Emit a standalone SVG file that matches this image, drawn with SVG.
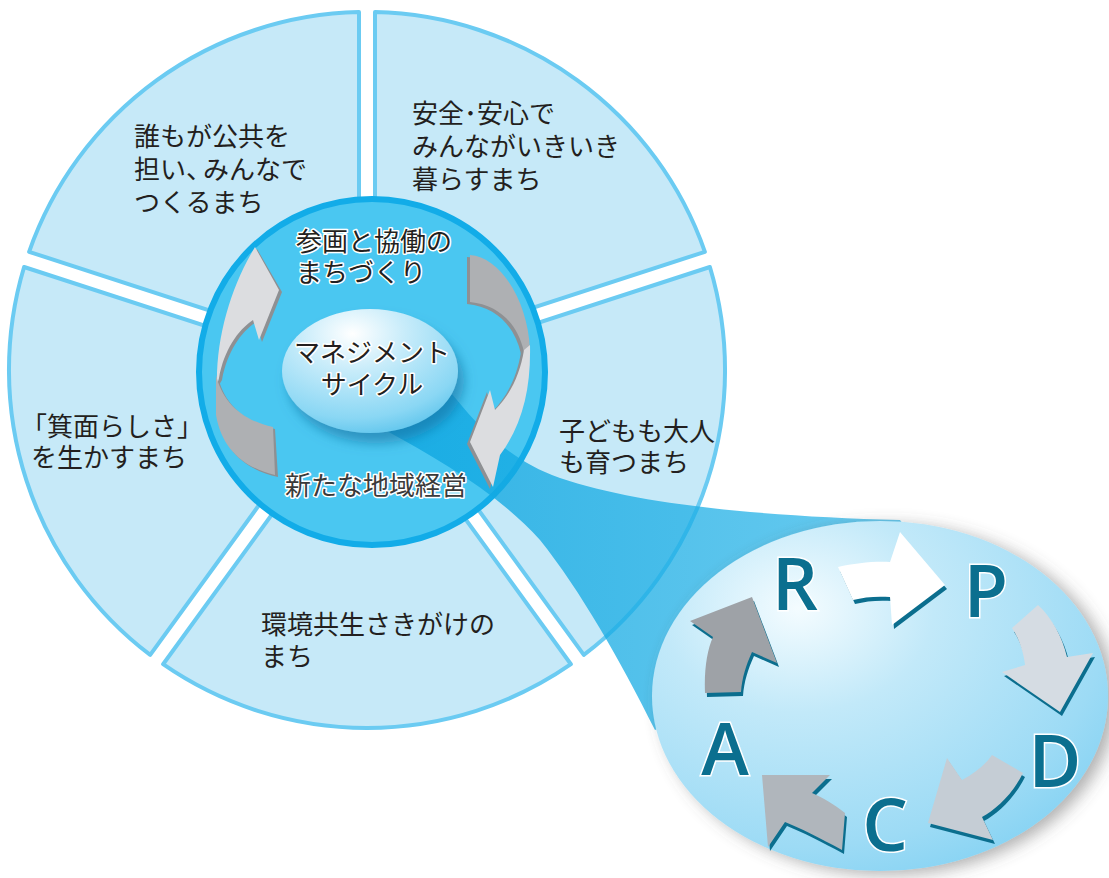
<svg xmlns="http://www.w3.org/2000/svg" width="1109" height="878" viewBox="0 0 1109 878">
<style>
.seg{fill:#c6e9f8;stroke:#6bcbf2;stroke-width:4;stroke-linejoin:round}
.jp{font-family:"Noto Sans CJK JP","Noto Sans",sans-serif;font-size:26px;fill:#231f20}
.halo{stroke:#ffffff;stroke-width:3;paint-order:stroke;stroke-linejoin:round}
.ltr{font-family:"Open Sans","Liberation Sans",sans-serif;font-weight:600;font-size:72px;fill:#0b6f8f;stroke:#ffffff;stroke-width:3;paint-order:stroke;text-anchor:middle}
.sh{fill:#0b6e8e}
</style>
<defs>
<radialGradient id="gEll" cx="0.32" cy="0.25" r="0.85">
<stop offset="0" stop-color="#f4fcff"/>
<stop offset="0.35" stop-color="#c2e9f9"/>
<stop offset="0.8" stop-color="#9ddbf5"/>
<stop offset="1" stop-color="#84d2f3"/>
</radialGradient>
<radialGradient id="gCen" cx="0.4" cy="0.2" r="0.85">
<stop offset="0" stop-color="#ffffff"/>
<stop offset="0.35" stop-color="#c8ecfa"/>
<stop offset="0.8" stop-color="#8ad7f4"/>
<stop offset="1" stop-color="#5cc4ec"/>
</radialGradient>
<linearGradient id="gBeam" x1="0" y1="0" x2="1" y2="0">
<stop offset="0" stop-color="#0ea6e0" stop-opacity="0.8"/>
<stop offset="1" stop-color="#2ab6ea" stop-opacity="0.7"/>
</linearGradient>
<filter id="fSh" x="-20%" y="-20%" width="140%" height="140%">
<feDropShadow dx="8" dy="4" stdDeviation="8" flood-color="#555" flood-opacity="0.45"/>
</filter>
<filter id="fCen" x="-30%" y="-30%" width="160%" height="170%">
<feDropShadow dx="6" dy="10" stdDeviation="6" flood-color="#0b6a9a" flood-opacity="0.55"/>
</filter>
</defs>

<g id="segments">
<g id="seg-top-right"><path class="seg" d="M 375 359 L 375 12.1 A 358 358 0 0 1 704.9 251.8 Z"/></g>
<g id="seg-right"><path class="seg" d="M 379.9 374.2 L 709.9 267 A 358 358 0 0 1 583.8 654.9 Z"/></g>
<g id="seg-bottom"><path class="seg" d="M 367 383.6 L 570.9 664.2 A 358 358 0 0 1 163.1 664.2 Z"/></g>
<g id="seg-left"><path class="seg" d="M 354.1 374.2 L 150.2 654.9 A 358 358 0 0 1 24.1 267 Z"/></g>
<g id="seg-top-left"><path class="seg" d="M 359 359 L 29.1 251.8 A 358 358 0 0 1 359 12.1 Z"/></g>
</g>

<g id="inner-circle">
<circle cx="372" cy="372" r="173" fill="#4ac7f1" stroke="#12ace8" stroke-width="6"/>
</g>

<g id="beam">
<path d="M 445 385 C 480 430, 510 460, 560 478 C 640 505, 760 516, 900 520 L 960 600 L 655 730 C 620 660, 580 590, 540 540 C 500 495, 440 460, 385 430 Z" fill="url(#gBeam)"/>
</g>

<g id="connectors">
<g id="arrow-left">
<path d="M 219 385 C 218 335, 234 285, 257 249 L 282 292 L 262 342 L 256 322 C 241 332, 227 352, 222 380 Z" fill="#8e9093"/>
<path d="M 218 377 C 224 402, 242 422, 275 429 L 278 477 C 247 470, 224 452, 218 417 Z" fill="#8e9093"/>
<path d="M 217 385 C 216 335, 232 285, 255 247 L 279 290 L 259 340 L 253 320 C 238 330, 224 350, 219 378 Z" fill="#dcdde0"/>
<path d="M 216 375 C 222 400, 240 420, 273 427 L 275 475 C 245 468, 222 450, 216 415 Z" fill="#aeb0b3"/>
</g>
<g id="arrow-right">
<path d="M 467 257 C 497 259, 525 302, 527 352 L 521 354 C 515 327, 497 307, 467 304 Z" fill="#8e9093"/>
<path d="M 527 347 C 528 392, 519 427, 497 457 L 490 489 L 467 444 L 487 392 L 492 412 C 507 397, 517 377, 521 352 Z" fill="#8e9093"/>
<path d="M 470 255 C 500 257, 528 300, 530 350 L 524 352 C 518 325, 500 305, 470 302 Z" fill="#aeb0b3"/>
<path d="M 530 345 C 531 390, 522 425, 500 455 L 493 487 L 470 442 L 490 390 L 495 410 C 510 395, 520 375, 524 350 Z" fill="#dcdde0"/>
</g>
</g>

<g id="center-ellipse">
<ellipse cx="370" cy="371" rx="88" ry="62" fill="url(#gCen)" filter="url(#fCen)"/>
<text class="jp halo" x="372" y="362" text-anchor="middle" font-size="28">マネジメント</text>
<text class="jp halo" x="372" y="394" text-anchor="middle" font-size="28">サイクル</text>
</g>

<g id="inner-labels">
<text class="jp halo" x="296" y="251">参画と協働の</text>
<text class="jp halo" x="296" y="282">まちづくり</text>
<text class="jp halo" x="376" y="495" text-anchor="middle" style="fill:#3a3a3a">新たな地域経営</text>
</g>

<g id="segment-labels">
<g id="label-top-left">
<text class="jp" x="134" y="146">誰もが公共を</text>
<text class="jp" x="134" y="179">担い、<tspan dx="-9">みんなで</tspan></text>
<text class="jp" x="134" y="212">つくるまち</text>
</g>
<g id="label-top-right">
<text class="jp" x="412" y="123">安全･安心で</text>
<text class="jp" x="412" y="156">みんながいきいき</text>
<text class="jp" x="412" y="189">暮らすまち</text>
</g>
<g id="label-left">
<text class="jp" x="21" y="436">「箕面らしさ」</text>
<text class="jp" x="31" y="467">を生かすまち</text>
</g>
<g id="label-right">
<text class="jp" x="559" y="441">子どもも大人</text>
<text class="jp" x="559" y="472">も育つまち</text>
</g>
<g id="label-bottom">
<text class="jp" x="261" y="634">環境共生さきがけの</text>
<text class="jp" x="261" y="666">まち</text>
</g>
</g>

<g id="rpdca">
<ellipse cx="880" cy="696" rx="228" ry="175" fill="url(#gEll)" filter="url(#fSh)"/>
<g id="arrow-a-r">
<path class="sh" transform="translate(2,4)" d="M 690 621 L 752 597 L 777 663 L 752 652 C 746 665, 742 678, 741 692 L 705 693 C 704 670, 707 650, 713 637 Z"/>
<path fill="#9ea2a7" d="M 690 621 L 752 597 L 777 663 L 752 652 C 746 665, 742 678, 741 692 L 705 693 C 704 670, 707 650, 713 637 Z"/>
</g>
<g id="arrow-r-p">
<path class="sh" transform="translate(2,4)" d="M 838 567 C 855 563, 875 561, 890 562 L 900 532 L 945 585 L 892 625 L 890 597 C 877 596, 864 597, 853 600 Z"/>
<path fill="#ffffff" d="M 838 567 C 855 563, 875 561, 890 562 L 900 532 L 945 585 L 892 625 L 890 597 C 877 596, 864 597, 853 600 Z"/>
</g>
<g id="arrow-p-d">
<path class="sh" transform="translate(2,4)" d="M 1012 628 L 1038 605 C 1052 618, 1062 636, 1067 657 L 1093 653 L 1060 712 L 1002 672 L 1025 665 C 1024 655, 1020 640, 1012 628 Z"/>
<path fill="#d5dce3" d="M 1012 628 L 1038 605 C 1052 618, 1062 636, 1067 657 L 1093 653 L 1060 712 L 1002 672 L 1025 665 C 1024 655, 1020 640, 1012 628 Z"/>
</g>
<g id="arrow-d-c">
<path class="sh" transform="translate(2,4)" d="M 1023 773 L 992 755 C 985 765, 975 773, 962 780 L 947 758 L 928 823 L 993 840 L 982 817 C 995 810, 1012 795, 1023 773 Z"/>
<path fill="#c5cdd5" d="M 1023 773 L 992 755 C 985 765, 975 773, 962 780 L 947 758 L 928 823 L 993 840 L 982 817 C 995 810, 1012 795, 1023 773 Z"/>
</g>
<g id="arrow-c-a">
<path class="sh" transform="translate(2,4)" d="M 845 813 C 835 805, 822 797, 812 793 L 830 775 L 762 775 L 768 847 L 785 822 C 800 828, 820 838, 842 850 Z"/>
<path fill="#b0b6bc" d="M 845 813 C 835 805, 822 797, 812 793 L 830 775 L 762 775 L 768 847 L 785 822 C 800 828, 820 838, 842 850 Z"/>
</g>
<text class="ltr" x="795" y="610">R</text>
<text class="ltr" x="986" y="617">P</text>
<text class="ltr" x="1055" y="787">D</text>
<text class="ltr" x="885" y="851">C</text>
<text class="ltr" x="725" y="775">A</text>
</g>
</svg>
